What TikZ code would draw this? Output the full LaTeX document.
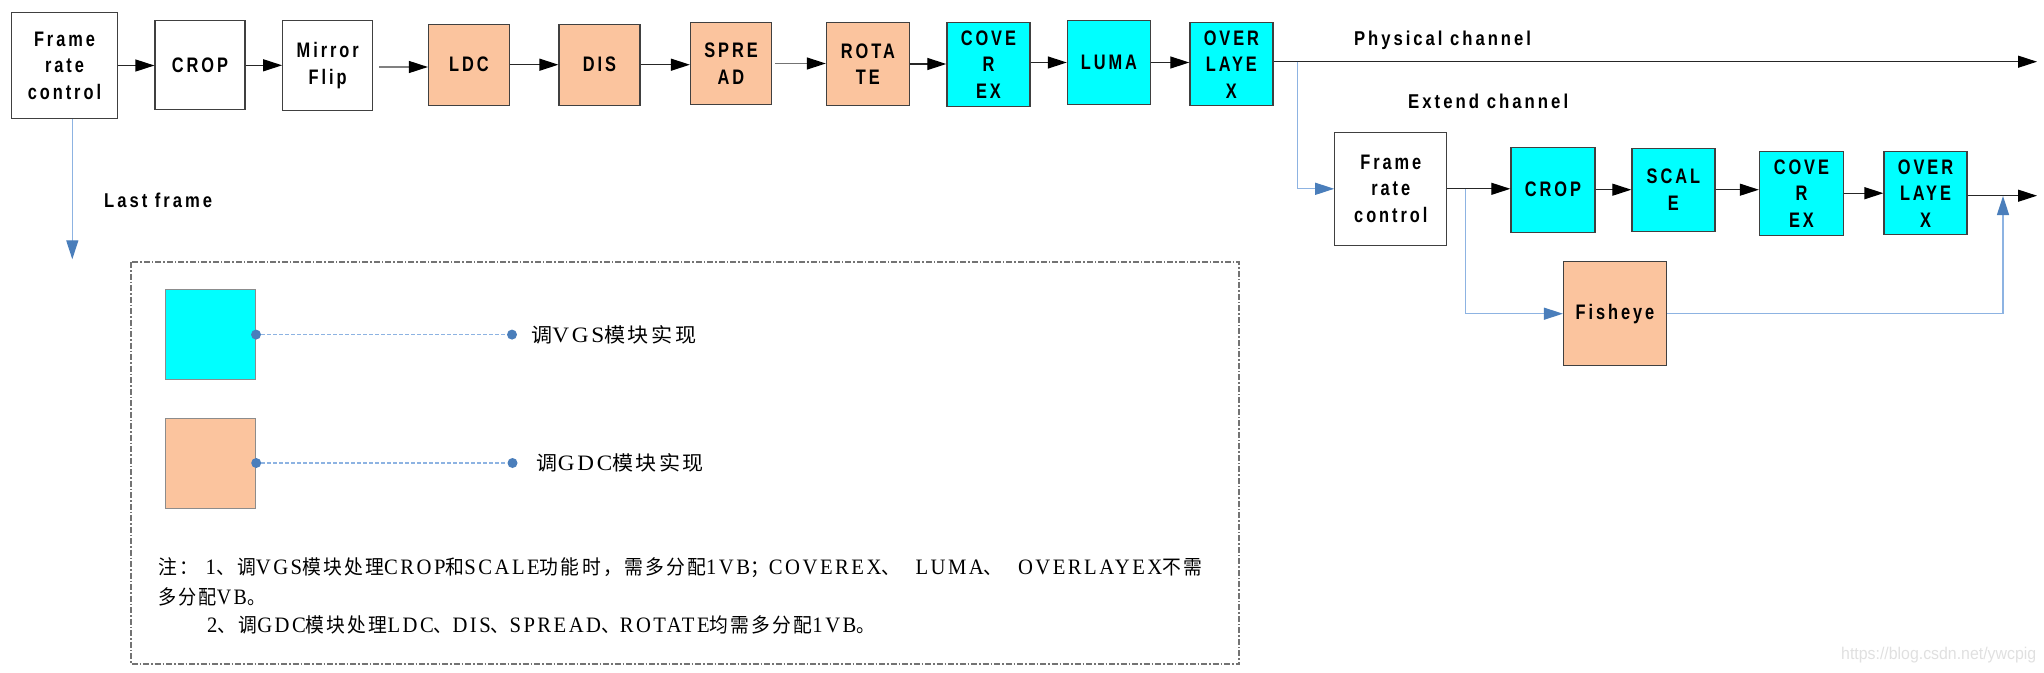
\documentclass[tikz,border=0pt]{standalone}
\usepackage{fontspec}
\usepackage{graphicx}
\setmainfont{Liberation Sans}
\newfontfamily\boxf{Liberation Sans}[FakeStretch=0.78,LetterSpace=14]
\newfontfamily\cjk{Noto Sans CJK SC}[LetterSpace=12]
\newfontfamily\lat{Liberation Serif}[Scale=1.1,LetterSpace=12]
\usetikzlibrary{arrows.meta,calc}
\newsavebox{\fitbox}
\newcommand{\fitw}[2]{\sbox{\fitbox}{#2}\pgfmathsetmacro{\fitr}{#1/\the\wd\fitbox}\scalebox{\fitr}[1]{\usebox{\fitbox}}}
\newcommand{\C}[1]{{\cjk #1}}
\definecolor{cyanC}{HTML}{00FFFF}
\definecolor{peachC}{HTML}{FBC49E}
\definecolor{lblue}{HTML}{8DB3E2}
\definecolor{dblue}{HTML}{4A7EBB}
\tikzset{
  box/.style={draw=black!75, line width=1.2pt, inner sep=0pt, align=center,
    font=\boxf\bfseries\fontsize{21}{26.5}\selectfont},
  cbox/.style={box, fill=cyanC},
  pbox/.style={box, fill=peachC},
  arr/.style={draw=black!85, line width=1.2pt, -{Triangle[length=19pt,width=12pt,color=black]}},
  bl/.style={draw=lblue, line width=1.3pt, -{Triangle[length=19pt,width=12pt,color=dblue]}},
  bline/.style={draw=lblue, line width=1.3pt},
  lbl/.style={inner sep=0pt, anchor=west, font=\boxf\bfseries\fontsize{20}{24}\selectfont},
  ltxt/.style={inner sep=0pt, anchor=west, font=\lat\fontsize{20}{24}\selectfont},
  dot/.style={circle, fill=dblue, inner sep=0pt, minimum size=10pt},
  dline/.style={draw=lblue, line width=1.5pt, dash pattern=on 4pt off 2pt}
}
\begin{document}
\begin{tikzpicture}[x=1pt,y=-1pt]
\useasboundingbox (0,0) rectangle (2044,672);
% top row
\node[box, minimum width=106pt, minimum height=106pt] (frc1) at (64.5,65.5) {Frame\\rate\\control};
\node[box, minimum width=90pt, minimum height=89pt] (crop1) at (200,65.3) {CROP};
\node[box, minimum width=90pt, minimum height=90pt] (mir) at (327.7,65.5) {Mirror\\Flip};
\node[pbox, minimum width=81pt, minimum height=81pt] (ldc) at (469,64.7) {LDC};
\node[pbox, minimum width=81pt, minimum height=81pt] (dis) at (599.5,64.7) {DIS};
\node[pbox, minimum width=81pt, minimum height=82pt] (spr) at (731,63.5) {SPRE\\AD};
\node[pbox, minimum width=83pt, minimum height=83pt] (rot) at (867.9,64) {ROTA\\TE};
\node[cbox, minimum width=83pt, minimum height=84pt] (cov) at (988.4,64.2) {COVE\\R\\EX};
\node[cbox, minimum width=83pt, minimum height=84pt] (luma) at (1108.9,62.5) {LUMA};
\node[cbox, minimum width=83pt, minimum height=83pt] (ovl) at (1231.4,64.2) {OVER\\LAYE\\X};
\draw[arr] (frc1.east) -- (frc1.east -| crop1.west);
\draw[arr] (crop1.east) -- (crop1.east -| mir.west);
\draw[arr, draw=black!50] ([xshift=6pt,yshift=-1.5pt]mir.east) -- ([yshift=-1.5pt]mir.east -| ldc.west);
\draw[arr] (ldc.east) -- (ldc.east -| dis.west);
\draw[arr] (dis.east) -- (dis.east -| spr.west);
\draw[arr, draw=black!55] ([xshift=3pt]spr.east) -- (spr.east -| rot.west);
\draw[arr] (rot.east) -- (rot.east -| cov.west);
\draw[arr] (luma.west -| cov.east) -- (luma.west);
\draw[arr] (luma.east) -- (luma.east -| ovl.west);
\coordinate (phys) at (2037,61.7);
\coordinate (br1) at (1297.3,61.7);
\draw[arr] (ovl.east |- phys) -- (phys);
\node[lbl] (physl) at (1353.8,40) {\fitw{177}{Physical channel}};
\node[lbl] (extl) at (1408,101.7) {\fitw{160}{Extend channel}};
% last frame
\coordinate (lf) at (72.3,259.3);
\draw[bl] (frc1.south -| lf) -- (lf);
\node[lbl] (lfl) at (104,200.7) {\fitw{108}{Last frame}};
% extend channel
\node[box, minimum width=112pt, minimum height=113pt] (frc2) at (1390.8,188.8) {Frame\\rate\\control};
\node[cbox, minimum width=84pt, minimum height=85pt] (crop2) at (1552.9,189.7) {CROP};
\node[cbox, minimum width=83pt, minimum height=83pt] (scale) at (1673.4,189.7) {SCAL\\E};
\node[cbox, minimum width=84pt, minimum height=84pt] (cov2) at (1801.4,193.2) {COVE\\R\\EX};
\node[cbox, minimum width=83pt, minimum height=83pt] (ovl2) at (1925.5,193.2) {OVER\\LAYE\\X};
\node[pbox, minimum width=103pt, minimum height=104pt] (fish) at (1615,313.7) {Fisheye};
\draw[bl] (br1) |- (frc2.west);
\draw[arr] (frc2.east) -- (frc2.east -| crop2.west);
\draw[arr] (crop2.east) -- (crop2.east -| scale.west);
\draw[arr] (scale.east) -- (scale.east -| cov2.west);
\draw[arr] (cov2.east) -- (cov2.east -| ovl2.west);
\coordinate (br2) at (1465.2,188.8);
\draw[bl] (br2) |- (fish.west);
\coordinate (mrg) at (2003,196);
\draw[bl] (fish.east) -| (mrg);
\coordinate (ext) at (2037,195.7);
\draw[arr] (ovl2.east |- ext) -- (ext);
% legend
\draw[draw=black!55, line width=1.2pt, dash pattern=on 6pt off 2pt on 1.5pt off 2pt] (131,262) rectangle (1239,664);
\node[box, fill=cyanC, draw=black!45, line width=1pt, minimum width=90pt, minimum height=90pt] (lg1) at (210.5,334.6) {};
\node[box, fill=peachC, draw=black!45, line width=1pt, minimum width=90pt, minimum height=90pt] (lg2) at (210.7,463) {};
\node[dot] (d1) at (lg1.east) {};
\node[dot] (d2) at (512,334.6) {};
\node[dot] (d3) at (lg2.east) {};
\node[dot] (d4) at (512.5,463) {};
\draw[dline] (d1) -- (d2);
\draw[dline] (d3) -- (d4);
\node[ltxt] (t1) at (531,334.7) {\fitw{165}{\C{调}VGS\C{模块实现}}};
\node[ltxt] (t2) at (536.6,463) {\fitw{167}{\C{调}GDC\C{模块实现}}};
\node[ltxt] (n1) at (158,567.3) {\fitw{1044}{\C{注：}\ 1\C{、调}VGS\C{模块处理}CROP\C{和}SCALE\C{功能时，需多分配}1VB\C{；}COVEREX\C{、}\ \ LUMA\C{、}\ \ OVERLAYEX\C{不需}}};
\node[ltxt] (n2) at (158,596.7) {\fitw{107}{\C{多分配}VB\C{。}}};
\node[ltxt] (n3) at (207,625) {\fitw{668}{2\C{、调}GDC\C{模块处理}LDC\C{、}DIS\C{、}SPREAD\C{、}ROTATE\C{均需多分配}1VB\C{。}}};
\node[inner sep=0pt, anchor=west, text=black!12, font=\fontsize{17}{20}\selectfont] (wm) at (1841,655) {\fitw{195}{https://blog.csdn.net/ywcpig}};
\end{tikzpicture}
\end{document}
